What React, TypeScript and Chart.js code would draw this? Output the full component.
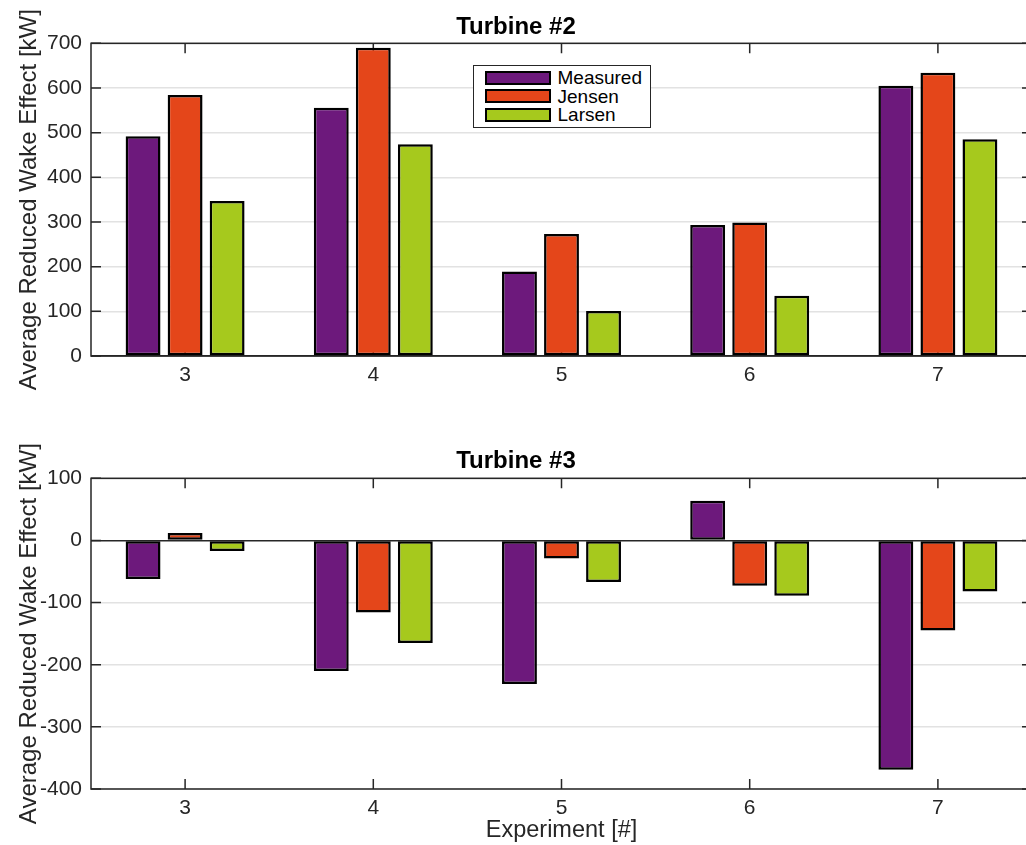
import React, { useEffect, useRef } from "react";
import { Chart, registerables } from "chart.js";

Chart.register(...registerables);

// ---------------- data ----------------
const experiments = ["3", "4", "5", "6", "7"];
const seriesNames = ["Measured", "Jensen", "Larsen"];
const seriesColors = ["#6D197C", "#E4461A", "#A6C91D"];

const turbine2Measured = [492, 556, 189, 293, 605];
const turbine2Jensen = [584, 690, 273, 299, 634];
const turbine2Larsen = [347, 474, 101, 135, 485];

const turbine3Measured = [-62, -210, -231, 64, -369];
const turbine3Jensen = [12, -116, -29, -73, -145];
const turbine3Larsen = [-17, -165, -67, -89, -82];

const turbine2YTicks = [0, 100, 200, 300, 400, 500, 600, 700];
const turbine3YTicks = [-400, -300, -200, -100, 0, 100];

const yAxisTitle = "Average Reduced Wake Effect [kW]";
const xAxisTitle = "Experiment [#]";

// ---------------- style ----------------
const FONT = "'Liberation Sans', Arial, Helvetica, sans-serif";
const AXIS_COLOR = "#262626";
const CANVAS_W = 1040;

const boxPlugin = {
  id: "matlabBox",
  beforeDatasetsDraw(chart: any) {
    const { ctx, chartArea, scales } = chart;
    const { left, right, top, bottom } = chartArea;
    const tl = 10;
    ctx.save();
    ctx.strokeStyle = AXIS_COLOR;
    ctx.lineWidth = 1.5;
    ctx.strokeRect(left, top, right - left, bottom - top);
    ctx.beginPath();
    scales.x.ticks.forEach((_t: any, i: number) => {
      const x = scales.x.getPixelForTick(i);
      ctx.moveTo(x, top);
      ctx.lineTo(x, top + tl);
      ctx.moveTo(x, bottom);
      ctx.lineTo(x, bottom - tl);
    });
    scales.y.ticks.forEach((t: any) => {
      const y = scales.y.getPixelForValue(t.value);
      ctx.moveTo(left, y);
      ctx.lineTo(left + tl, y);
      ctx.moveTo(right, y);
      ctx.lineTo(right - tl, y);
    });
    ctx.stroke();
    ctx.restore();
  },
};

function makeConfig(
  title: string,
  series: number[][],
  yTicks: number[],
  titlePad: { top: number; bottom: number },
  xAxisHeight: number,
  showXTitle: boolean
): any {
  return {
    type: "bar",
    data: {
      labels: experiments,
      datasets: series.map((vals, i) => ({
        label: seriesNames[i],
        data: vals,
        backgroundColor: seriesColors[i],
        borderColor: "#000000",
        borderWidth: 2.5,
        borderSkipped: false,
        categoryPercentage: 0.67,
        barPercentage: 0.83,
      })),
    },
    options: {
      responsive: false,
      animation: false,
      devicePixelRatio: 1,
      layout: { padding: { left: 0, right: 8, top: 0, bottom: 0 } },
      plugins: {
        legend: { display: false },
        tooltip: { enabled: false },
        title: {
          display: true,
          text: title,
          color: "#000000",
          font: { family: FONT, size: 24, weight: "bold" },
          padding: titlePad,
        },
      },
      scales: {
        x: {
          offset: true,
          grid: { display: false, drawTicks: false },
          border: { display: false },
          ticks: {
            color: AXIS_COLOR,
            font: { family: FONT, size: 21 },
            padding: 7,
            maxRotation: 0,
          },
          title: {
            display: showXTitle,
            text: xAxisTitle,
            color: AXIS_COLOR,
            font: { family: FONT, size: 23.5 },
            padding: { top: 0, bottom: 0 },
          },
          afterFit: (scale: any) => {
            scale.height = xAxisHeight;
          },
        },
        y: {
          min: yTicks[0],
          max: yTicks[yTicks.length - 1],
          ticks: {
            stepSize: 100,
            color: AXIS_COLOR,
            font: { family: FONT, size: 21 },
            padding: 9,
          },
          grid: {
            drawTicks: false,
            lineWidth: 1.5,
            color: (c: any) =>
              c.tick && c.tick.value === 0 ? AXIS_COLOR : "#E2E2E2",
          },
          border: { display: false },
          title: {
            display: true,
            text: yAxisTitle,
            color: AXIS_COLOR,
            font: { family: FONT, size: 24 },
            padding: { top: 14.6, bottom: 0 },
          },
          afterFit: (scale: any) => {
            scale.width = 91;
          },
        },
      },
    },
    plugins: [boxPlugin],
  };
}

export default function App() {
  const topRef = useRef<HTMLCanvasElement | null>(null);
  const botRef = useRef<HTMLCanvasElement | null>(null);

  useEffect(() => {
    const c1 = new Chart(
      topRef.current as HTMLCanvasElement,
      makeConfig(
        "Turbine #2",
        [turbine2Measured, turbine2Jensen, turbine2Larsen],
        turbine2YTicks,
        { top: 12.8, bottom: 1.7 },
        54,
        false
      )
    );
    const c2 = new Chart(
      botRef.current as HTMLCanvasElement,
      makeConfig(
        "Turbine #3",
        [turbine3Measured, turbine3Jensen, turbine3Larsen],
        turbine3YTicks,
        { top: 37.3, bottom: 2.2 },
        56,
        true
      )
    );
    return () => {
      c1.destroy();
      c2.destroy();
    };
  }, []);

  const swatchTops = [71, 89.5, 108];

  return (
    <div
      style={{
        position: "fixed",
        left: 0,
        top: 0,
        width: 1026,
        height: 845,
        overflow: "hidden",
        background: "#ffffff",
      }}
    >
      <canvas
        ref={topRef}
        width={CANVAS_W}
        height={410}
        style={{ position: "absolute", left: 0, top: 0, width: CANVAS_W, height: 410 }}
      />
      <canvas
        ref={botRef}
        width={CANVAS_W}
        height={435}
        style={{ position: "absolute", left: 0, top: 410, width: CANVAS_W, height: 435 }}
      />
      <div
        style={{
          position: "absolute",
          left: 473,
          top: 65,
          width: 178,
          height: 63,
          boxSizing: "border-box",
          border: "1.5px solid #262626",
          background: "#ffffff",
          fontFamily: FONT,
        }}
      >
        {seriesNames.map((name, i) => (
          <React.Fragment key={name}>
            <div
              style={{
                position: "absolute",
                left: 11,
                top: swatchTops[i] - 65 - 1.5,
                width: 66,
                height: 14,
                boxSizing: "border-box",
                border: "2px solid #000000",
                background: seriesColors[i],
              }}
            />
            <div
              style={{
                position: "absolute",
                left: 83.5,
                top: swatchTops[i] - 65 - 1.5 + 7 - 9.5,
                fontSize: 19,
                lineHeight: "19px",
                color: "#000000",
                whiteSpace: "nowrap",
              }}
            >
              {name}
            </div>
          </React.Fragment>
        ))}
      </div>
    </div>
  );
}
